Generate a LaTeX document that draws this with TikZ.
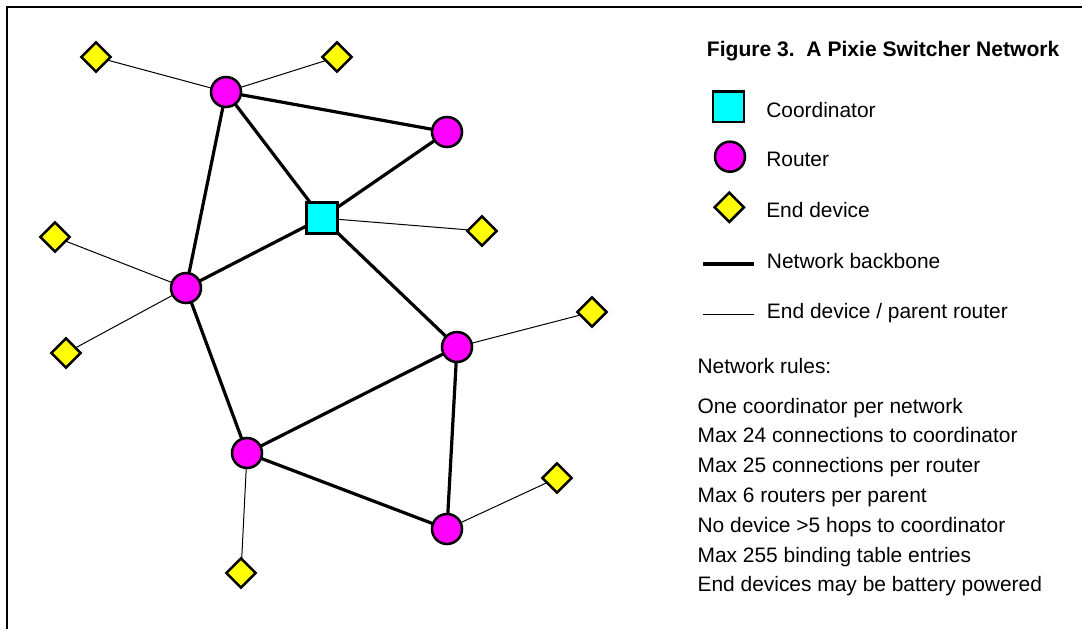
\documentclass[tikz,border=0pt]{standalone}
\usepackage{fontspec}
\setmainfont{Liberation Sans}
\usetikzlibrary{shapes.geometric}
\definecolor{rtcol}{RGB}{255,0,255}
\definecolor{cocol}{RGB}{0,255,255}
\definecolor{edcol}{RGB}{255,255,0}
\begin{document}
\begin{tikzpicture}[x=0.75pt,y=-0.75pt,
 router/.style={circle,draw=black,line width=1.9pt,fill=rtcol,minimum size=22.5pt,inner sep=0pt,outer sep=0pt},
 coordbox/.style={rectangle,draw=black,line width=1.9pt,fill=cocol,minimum size=23pt,inner sep=0pt,outer sep=0pt},
 enddev/.style={diamond,aspect=1,draw=black,line width=1.9pt,fill=edcol,minimum size=22pt,inner sep=0pt,outer sep=0pt},
 backbone/.style={line width=2.4pt},
 leaf/.style={line width=0.75pt},
 lbl/.style={anchor=base west,inner sep=0pt,font=\fontsize{15.7}{18}\selectfont},
 ttl/.style={anchor=base west,inner sep=0pt,font=\fontsize{15.8}{18}\selectfont\bfseries}]
\useasboundingbox (0,0) rectangle (1082,629);
\draw[line width=1.9pt] (1082,7) -- (7,7) -- (7,629);

% routers
\node[router] (r1) at (226,92) {};
\node[router] (r2) at (447,132) {};
\node[router] (r3) at (186,288) {};
\node[router] (r4) at (457,347) {};
\node[router] (r5) at (247,453) {};
\node[router] (r6) at (447,529) {};
% coordinator
\node[coordbox] (c) at (322,218) {};
% end devices
\node[enddev] (e1) at (96,57) {};
\node[enddev] (e2) at (337,57) {};
\node[enddev] (e3) at (482,231) {};
\node[enddev] (e4) at (55,237) {};
\node[enddev] (e5) at (66,353) {};
\node[enddev] (e6) at (592,312) {};
\node[enddev] (e7) at (557,478) {};
\node[enddev] (e8) at (241,573) {};

% backbone
\draw[backbone] (r1) -- (r2);
\draw[backbone] (r1) -- (c);
\draw[backbone] (r1) -- (r3);
\draw[backbone] (c) -- (r2);
\draw[backbone] (c) -- (r3);
\draw[backbone] (c) -- (r4);
\draw[backbone] (r3) -- (r5);
\draw[backbone] (r5) -- (r4);
\draw[backbone] (r4) -- (r6);
\draw[backbone] (r5) -- (r6);
% end device links
\draw[leaf] (e1) -- (r1);
\draw[leaf] (e2) -- (r1);
\draw[leaf] (e3) -- (c);
\draw[leaf] (e4) -- (r3);
\draw[leaf] (e5) -- (r3);
\draw[leaf] (e6) -- (r4);
\draw[leaf] (e7) -- (r6);
\draw[leaf] (e8) -- (r5);

% legend
\node[ttl] (title) at (706.7,56) {Figure 3.\ \ A Pixie Switcher Network};
\node[coordbox] (lc) at (728.5,106.7) {};
\node[lbl] (tc) at (766,117) {Coordinator};
\node[router] (lr) at (730,156.7) {};
\node[lbl] (tr) at (766,166.7) {Router};
\node[enddev] (le) at (729.3,207.3) {};
\node[lbl] (te) at (766,217.3) {End device};
\coordinate (bb1) at (703,264);
\coordinate (bb2) at (754,264);
\draw[backbone] (bb1) -- (bb2);
\node[lbl] (tb) at (766.7,268.5) {Network backbone};
\coordinate (lf1) at (703,314);
\coordinate (lf2) at (754,314);
\draw[leaf] (lf1) -- (lf2);
\node[lbl] (tl) at (766.7,318.5) {End device / parent router};

% rules
\node[lbl] (h) at (697.3,373) {Network rules:};
\node[lbl] (n1) at (697.3,413) {One coordinator per network};
\node[lbl] (n2) at (697.3,442.8) {Max 24 connections to coordinator};
\node[lbl] (n3) at (697.3,472.6) {Max 25 connections per router};
\node[lbl] (n4) at (697.3,502.4) {Max 6 routers per parent};
\node[lbl] (n5) at (697.3,532.2) {No device >5 hops to coordinator};
\node[lbl] (n6) at (697.3,562) {Max 255 binding table entries};
\node[lbl] (n7) at (697.3,591.8) {End devices may be battery powered};
\end{tikzpicture}
\end{document}
